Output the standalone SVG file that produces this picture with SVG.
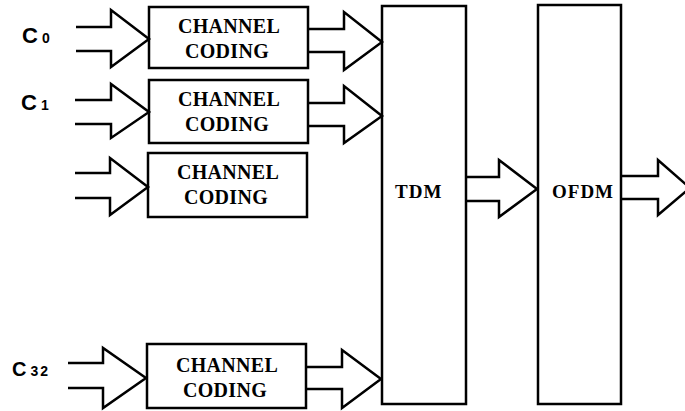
<svg xmlns="http://www.w3.org/2000/svg" width="685" height="411" viewBox="0 0 685 411">
<style>
.box{fill:#fff;stroke:#000;stroke-width:2.5}
.arr{fill:none;stroke:#000;stroke-width:2.5;stroke-linejoin:miter}
.t{font-family:"Liberation Serif","Times New Roman",serif;font-weight:bold;font-size:20px;letter-spacing:0.3px;fill:#000;text-anchor:middle}
.t2{font-family:"Liberation Serif","Times New Roman",serif;font-weight:bold;font-size:19px;letter-spacing:1px;fill:#000}
.c{font-family:"Liberation Sans",Arial,sans-serif;font-weight:bold;font-size:22px;fill:#000}
.s{font-size:14px}
</style>
<rect width="685" height="411" fill="#fff"/>
<g id="labels">
<text class="c" x="22" y="43">C<tspan class="s" dx="4">0</tspan></text>
<text class="c" x="21" y="110">C<tspan class="s" dx="4">1</tspan></text>
<text class="c" x="12" y="376" style="font-size:20px">C<tspan class="s" dx="4">3</tspan><tspan class="s" dx="2">2</tspan></text>
</g>
<g id="cc0"><rect class="box" x="149" y="7" width="159" height="61"/><text class="t" x="229" y="33">CHANNEL</text><text class="t" x="227" y="58">CODING</text></g>
<g id="cc1"><rect class="box" x="149" y="80" width="159" height="63"/><text class="t" x="229" y="106">CHANNEL</text><text class="t" x="227" y="131">CODING</text></g>
<g id="cc2"><rect class="box" x="148" y="153" width="159" height="64"/><text class="t" x="228" y="179">CHANNEL</text><text class="t" x="226" y="204">CODING</text></g>
<g id="cc32"><rect class="box" x="147" y="344" width="159" height="64"/><text class="t" x="227" y="372">CHANNEL</text><text class="t" x="225" y="397">CODING</text></g>
<g id="tdm"><rect class="box" x="382" y="6" width="84" height="398"/><text class="t2" x="395" y="198">TDM</text></g>
<g id="ofdm"><rect class="box" x="538" y="5" width="83" height="399"/><text class="t2" x="552" y="198">OFDM</text></g>
<g id="connectors">
<path class="arr" d="M76 27H111V10L149 39L111 67V51H76"/>
<path class="arr" d="M75 100H111V84L149 112L111 138V124H75"/>
<path class="arr" d="M75 173H110V158L148 187L110 215V198H75"/>
<path class="arr" d="M68 363H103V348L146 378L103 408V388H68"/>
<path class="arr" d="M308 29H344V12L382 42L344 70V52H308"/>
<path class="arr" d="M308 103H344V86L382 116L344 143V126H308"/>
<path class="arr" d="M306 367H342V350L381 379L342 408V389H306"/>
<path class="arr" d="M466 177H499V160L537 189L499 217V201H466"/>
<path class="arr" d="M621 176H658V160L690 188L658 215V199H621"/>
</g>
</svg>
